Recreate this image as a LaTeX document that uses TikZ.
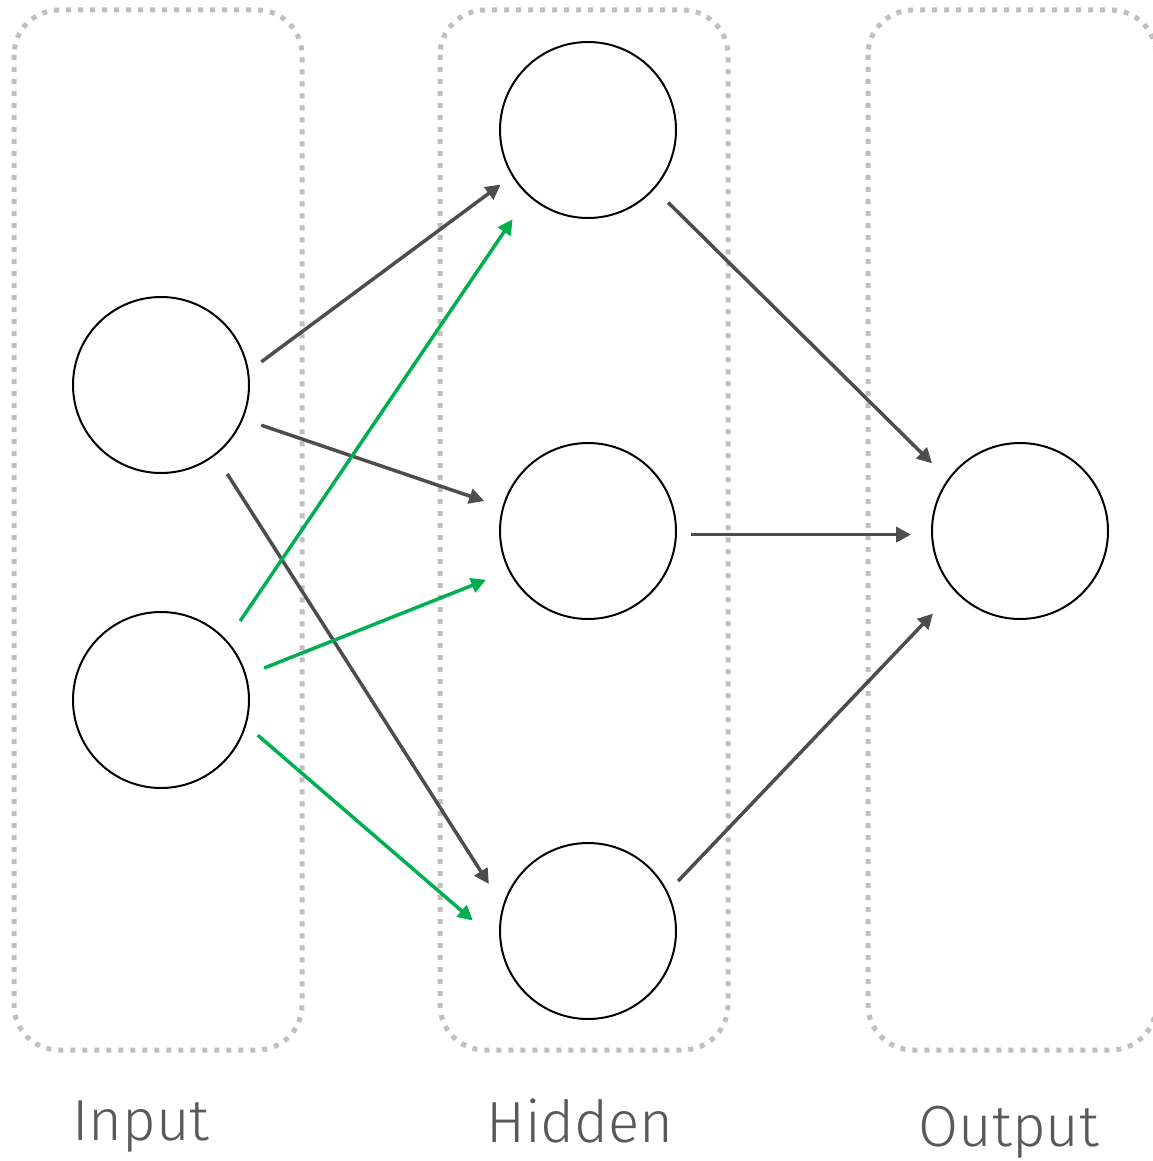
\documentclass[tikz,border=0pt]{standalone}
\usepackage{fontspec}
\newfontfamily\labelfont{Fira Sans Light}
\usetikzlibrary{arrows.meta}

\definecolor{boxgray}{HTML}{BFBFBF}
\definecolor{edgegray}{HTML}{4D4D4D}
\definecolor{edgegreen}{HTML}{00B050}
\definecolor{textgray}{HTML}{595959}

\begin{document}
\begin{tikzpicture}[x=1pt, y=-1pt,
        neuron/.style={circle, draw=black, line width=2pt, minimum size=176pt,
            inner sep=0pt, outer sep=15pt},
        layerbox/.style={draw=boxgray, line width=5pt,
            dash pattern=on 5pt off 7pt, rounded corners=45pt},
        edge/.style={draw=edgegray, line width=3.5pt,
            -{Triangle[length=15pt, width=15pt]}},
        green edge/.style={edge, draw=edgegreen},
        layername/.style={text=textgray, anchor=base,
            font=\labelfont\fontsize{58}{60}\selectfont}]

        % Fix the size of the page.
        \useasboundingbox (0, 0) rectangle (1152, 1161);

        % Dotted boxes round the three layers.
        \draw [layerbox] (14, 10) rectangle (302, 1050);
        \draw [layerbox] (440, 10) rectangle (728, 1050);
        \draw [layerbox] (868, 10) rectangle (1156, 1050);

        % The neurons.
        \node [neuron] (i1) at (161, 385) {};
        \node [neuron] (i2) at (161, 700) {};
        \node [neuron] (h1) at (588, 130) {};
        \node [neuron] (h2) at (588, 531) {};
        \node [neuron] (h3) at (588, 931) {};
        \node [neuron] (o1) at (1020, 531) {};

        % Edges out of the first input.
        \draw [edge] (i1.13) to (h1.212);
        \draw [edge, shorten <=5pt, shorten >=5pt] (i1.-22) to (h2.164);
        \draw [edge, shorten <=8pt, shorten >=8pt] (i1.-53) to (h3.157);

        % Edges out of the second input.
        \draw [green edge, shorten <=9pt, shorten >=14pt] (i2.44) to (h1.229);
        \draw [green edge, shorten <=5pt, shorten >=10pt] (i2.17) to (h2.206);
        \draw [green edge, shorten >=16pt] (i2.-20) to (h3.180);

        % Edges into the output.
        \draw [edge, shorten <=5pt, shorten >=8pt] (h1.-42) to (o1.143);
        \draw [edge, shorten >=6pt] (h2.-2) to (o1.182);
        \draw [edge, shorten >=17pt] (h3.29) to (o1.223);

        % Layer names.
        \node [layername] (inname) at (141, 1140) {Input};
        \node [layername] (hidname) at (580, 1142) {Hidden};
        \node [layername] (outname) at (1009, 1146) {Output};
\end{tikzpicture}
\end{document}
